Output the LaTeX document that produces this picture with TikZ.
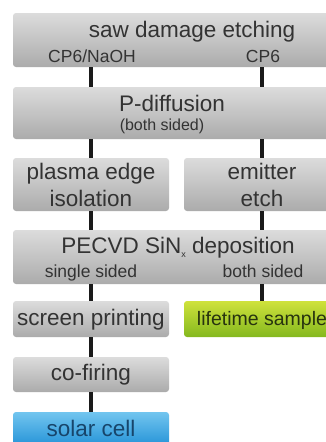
\documentclass[tikz,border=0pt]{standalone}
\usepackage{fontspec}
\setmainfont{Liberation Sans}
\definecolor{greytop}{HTML}{DCDCDC}
\definecolor{greybot}{HTML}{ABABAB}
\definecolor{limetop}{HTML}{CFE23C}
\definecolor{limebot}{HTML}{84B81E}
\definecolor{skytop}{HTML}{72C5EF}
\definecolor{skybot}{HTML}{2090D6}
\definecolor{inktxt}{HTML}{333333}
\definecolor{limetxt}{HTML}{27330F}
\definecolor{celltxt}{HTML}{17456B}
\definecolor{linkc}{HTML}{1A1A1A}
\begin{document}
\begin{tikzpicture}[x=1pt,y=-1pt,line cap=butt,font=\fontsize{22.5}{27}\selectfont,text=inktxt]
	\tikzset{stage/.style={rounded corners=3pt,top color=greytop,bottom color=greybot,
			inner sep=0pt,align=center,minimum height=#1},
		wide/.style={stage=#1,minimum width=327pt},
		col/.style={stage=#1,minimum width=156pt},
		oneline/.style={text height=16pt,text depth=4pt},
		sub/.style={font=\fontsize{17.5}{20}\selectfont,anchor=base},
		link/.style={line width=4pt,draw=linkc}}
	\useasboundingbox (0,0) rectangle (326,442);
	\clip (0,0) rectangle (326,442);
	% wide stages
	\node[wide=54pt] (saw) at (176.5,40) {};
	\node[anchor=base] (sawt) at (192,37) {saw damage etching};
	\node[sub] (sawl) at (92,62) {CP6/NaOH};
	\node[sub] (sawr) at (263,62) {CP6};
	\node[wide=52pt] (diff) at (176.5,113) {};
	\node[anchor=base] (difft) at (172,111) {P-diffusion};
	\node[sub,font=\fontsize{16}{18}\selectfont] (diffs) at (162,130) {(both sided)};
	\node[col=53pt] (pei) at (91,184.5) {plasma edge\\isolation};
	\node[col=53pt] (emit) at (262,184.5) {emitter\\etch};
	\node[wide=54pt] (pecvd) at (176.5,257) {};
	\node[anchor=base] (pecvdt) at (178,253) {PECVD SiN\raisebox{-4pt}{\fontsize{9}{9}\selectfont x} deposition};
	\node[sub] (pecvdl) at (91,277) {single sided};
	\node[sub] (pecvdr) at (263,277) {both sided};
	% lower stages
	\node[col=36pt,oneline] (scr) at (91,319) {screen printing};
	\node[col=36pt,oneline,top color=limetop,bottom color=limebot,text=limetxt,
		font=\fontsize{19.5}{22}\selectfont] (life) at (262,319) {lifetime sample};
	\node[col=35pt,oneline] (cof) at (91,374.5) {co-firing};
	\node[col=36pt,oneline,top color=skytop,bottom color=skybot,text=celltxt] (sol) at (91,430) {solar cell};
	% links
	\foreach \a/\b/\c in {saw/diff/pei,saw/diff/emit,diff/pei/pei,diff/emit/emit,
		pei/pecvd/pei,emit/pecvd/emit,pecvd/scr/pei,pecvd/life/emit,scr/cof/pei,cof/sol/pei}{
		\draw[link] (\a.south -| \c) -- (\b.north -| \c);}
\end{tikzpicture}
\end{document}
